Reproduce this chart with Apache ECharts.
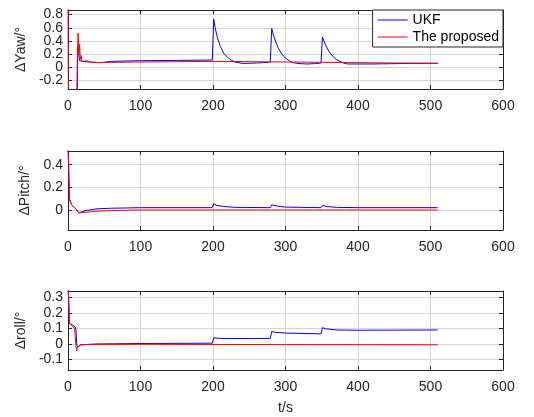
<!DOCTYPE html>
<html>
<head>
<meta charset="utf-8">
<script src="https://cdn.jsdelivr.net/npm/echarts@6/dist/echarts.min.js"></script>
<style>
html, body { margin: 0; padding: 0; background: #fff; }
#chart { width: 534px; height: 417px; }
</style>
</head>
<body>
<div id="chart"></div>
<script>
// x axis ticks shared by the three panels
var xTicks = [0, 100, 200, 300, 400, 500, 600];
var yawTicks = [-0.2, 0, 0.2, 0.4, 0.6, 0.8];
var pitchTicks = [0, 0.2, 0.4];
var rollTicks = [-0.1, 0, 0.1, 0.2, 0.3];
var seriesNames = ['UKF', 'The proposed'];

// yaw error
var tYawUkf = [0, 12.5, 13.5, 15, 16, 18, 20, 30, 45, 60, 100, 150, 199, 200, 201, 203, 206, 210, 215, 220, 225, 230, 240, 250, 260, 270, 279, 280, 281, 283, 286, 290, 295, 300, 305, 310, 320, 330, 340, 349, 350, 351, 353, 356, 360, 365, 370, 375, 380, 385, 400, 420, 450, 480, 510];
var yawUkf = [-0.6, -0.6, 0.3, 0.2, 0.1, 0.08, 0.09, 0.08, 0.07, 0.09, 0.1, 0.105, 0.11, 0.11, 0.73, 0.6, 0.45, 0.32, 0.21, 0.15, 0.11, 0.08, 0.06, 0.06, 0.065, 0.07, 0.08, 0.08, 0.59, 0.5, 0.4, 0.29, 0.2, 0.14, 0.1, 0.07, 0.055, 0.05, 0.055, 0.065, 0.065, 0.46, 0.4, 0.32, 0.24, 0.17, 0.12, 0.09, 0.065, 0.05, 0.05, 0.05, 0.055, 0.06, 0.06];
var tYawProp = [0, 0.5, 12, 13, 14, 15, 16, 17, 18, 19, 20, 22, 25, 30, 40, 60, 100, 200, 250, 300, 350, 400, 450, 510];
var yawProp = [1.0, -0.6, -0.6, 0.25, 0.52, 0.2, 0.35, 0.12, 0.18, 0.1, 0.13, 0.09, 0.1, 0.08, 0.07, 0.075, 0.08, 0.09, 0.085, 0.08, 0.075, 0.07, 0.065, 0.06];

// pitch error
var tPitchUkf = [0, 2, 5, 10, 15, 25, 40, 60, 100, 199, 200, 201, 205, 215, 230, 279, 280, 281, 287, 300, 349, 350, 351, 357, 370, 400, 510];
var pitchUkf = [0.6, 0.1, 0.05, 0.02, -0.02, 0, 0.015, 0.02, 0.025, 0.025, 0.025, 0.06, 0.045, 0.035, 0.028, 0.025, 0.025, 0.05, 0.04, 0.03, 0.025, 0.025, 0.045, 0.035, 0.028, 0.025, 0.025];
var tPitchProp = [0, 2, 5, 10, 15, 17, 25, 40, 60, 100, 300, 510];
var pitchProp = [0.6, 0.1, 0.05, 0.02, -0.02, -0.03, -0.015, -0.005, 0, 0.005, 0.005, 0.005];

// roll error
var tRollUkf = [0, 2, 5, 10, 11, 12, 13, 15, 18, 40, 100, 199, 200, 201, 210, 250, 279, 280, 281, 285, 300, 349, 350, 351, 355, 370, 400, 510];
var rollUkf = [0.4, 0.13, 0.125, 0.11, 0.09, 0.0, -0.02, -0.01, -0.005, 0.0, 0.003, 0.005, 0.005, 0.04, 0.035, 0.035, 0.036, 0.036, 0.08, 0.075, 0.07, 0.065, 0.065, 0.105, 0.098, 0.09, 0.088, 0.09];
var tRollProp = [0, 2, 5, 9, 10, 11, 12, 13, 15, 18, 30, 100, 300, 510];
var rollProp = [0.4, 0.13, 0.12, 0.1, 0.095, -0.01, -0.045, -0.02, -0.015, -0.005, -0.003, -0.002, -0.004, -0.005];

var FONT = 'Liberation Sans';
var TXT = '#262626';
var gridTops = [10, 151, 291];
var yRanges = [[-0.33, 0.87], [-0.17, 0.52], [-0.167, 0.34]];
var yTickSets = [yawTicks, pitchTicks, rollTicks];
var yNames = ['\u0394Yaw/\u00b0', '\u0394Pitch/\u00b0', '\u0394roll/\u00b0'];
var yNameGaps = [35, 33, 36];

function pairs(t, v) {
    var out = [];
    for (var i = 0; i < t.length; i++) {
        out.push([t[i], v[i]]);
    }
    return out;
}
// every other tick, so tightly packed labels are not dropped
function every2(arr, start) {
    var out = [];
    for (var i = start; i < arr.length; i += 2) out.push(arr[i]);
    return out;
}

var grids = [], xAxes = [], yAxes = [];
var labelStyle = { fontFamily: FONT, fontSize: 14, color: TXT };
for (var g = 0; g < 3; g++) {
    grids.push({ left: 68, right: 31, top: gridTops[g], height: 79 });
    // bottom x axis
    xAxes.push({
        type: 'value', gridIndex: g, min: 0, max: 600,
        name: g === 2 ? 't/s' : '', nameLocation: 'middle', nameGap: 31,
        nameTextStyle: labelStyle,
        axisLine: { show: true, onZero: false, lineStyle: { color: TXT, width: 1 } },
        axisTick: { show: true, inside: true, length: 4, customValues: xTicks, lineStyle: { color: TXT } },
        axisLabel: { customValues: xTicks, showMinLabel: true, showMaxLabel: true, fontFamily: FONT, fontSize: 14, color: TXT, margin: 10 },
        splitLine: { show: true, lineStyle: { color: '#d6d6d6', width: 1 } }
    });
    // top x axis (box)
    xAxes.push({
        type: 'value', gridIndex: g, min: 0, max: 600, position: 'top',
        axisLine: { show: true, onZero: false, lineStyle: { color: TXT, width: 1 } },
        axisTick: { show: true, inside: true, length: 4, customValues: xTicks, lineStyle: { color: TXT } },
        axisLabel: { show: false },
        splitLine: { show: false }
    });
    // left y axis: line, ticks, grid, half of the labels
    yAxes.push({
        type: 'value', gridIndex: g, min: yRanges[g][0], max: yRanges[g][1], position: 'left',
        name: yNames[g], nameLocation: 'middle', nameGap: yNameGaps[g], nameRotate: 90,
        nameTextStyle: labelStyle,
        axisLine: { show: true, onZero: false, lineStyle: { color: TXT, width: 1 } },
        axisTick: { show: true, inside: true, length: 4, customValues: yTickSets[g], lineStyle: { color: TXT } },
        axisLabel: { customValues: every2(yTickSets[g], 0), showMinLabel: true, showMaxLabel: true, fontFamily: FONT, fontSize: 14, color: TXT, margin: 5 },
        splitLine: { show: true, lineStyle: { color: '#d6d6d6', width: 1 } }
    });
    // right y axis (box)
    yAxes.push({
        type: 'value', gridIndex: g, min: yRanges[g][0], max: yRanges[g][1], position: 'right',
        axisLine: { show: true, onZero: false, lineStyle: { color: TXT, width: 1 } },
        axisTick: { show: true, inside: true, length: 4, customValues: yTickSets[g], lineStyle: { color: TXT } },
        axisLabel: { show: false },
        splitLine: { show: false }
    });
    // left y axis: other half of the labels
    yAxes.push({
        type: 'value', gridIndex: g, min: yRanges[g][0], max: yRanges[g][1], position: 'left', offset: 0,
        axisLine: { show: false, onZero: false },
        axisTick: { show: false },
        axisLabel: { customValues: every2(yTickSets[g], 1), showMinLabel: true, showMaxLabel: true, fontFamily: FONT, fontSize: 14, color: TXT, margin: 5 },
        splitLine: { show: false }
    });
}

var ukfData = [pairs(tYawUkf, yawUkf), pairs(tPitchUkf, pitchUkf), pairs(tRollUkf, rollUkf)];
var propData = [pairs(tYawProp, yawProp), pairs(tPitchProp, pitchProp), pairs(tRollProp, rollProp)];
var series = [];
for (var s = 0; s < 3; s++) {
    series.push({
        name: seriesNames[0], type: 'line', xAxisIndex: s * 2, yAxisIndex: s * 3,
        data: ukfData[s], showSymbol: false, symbol: 'none', clip: true,
        lineStyle: { color: '#0000ff', width: 1 }, itemStyle: { color: '#0000ff' }
    });
    series.push({
        name: seriesNames[1], type: 'line', xAxisIndex: s * 2, yAxisIndex: s * 3,
        data: propData[s], showSymbol: false, symbol: 'none', clip: true,
        lineStyle: { color: '#ff0000', width: 1 }, itemStyle: { color: '#ff0000' }
    });
}

var option = {
    backgroundColor: '#fff',
    animation: false,
    legend: {
        data: seriesNames,
        orient: 'vertical',
        right: 31, top: 10,
        padding: [3, 4, 3, 5],
        itemGap: 3,
        itemWidth: 30, itemHeight: 1,
        icon: 'rect',
        backgroundColor: '#fff',
        borderColor: TXT, borderWidth: 1,
        textStyle: { fontFamily: FONT, fontSize: 14, color: '#000' }
    },
    grid: grids,
    xAxis: xAxes,
    yAxis: yAxes,
    series: series
};

var echart = echarts.init(document.getElementById('chart'));
echart.setOption(option, true);
</script>
</body>
</html>
